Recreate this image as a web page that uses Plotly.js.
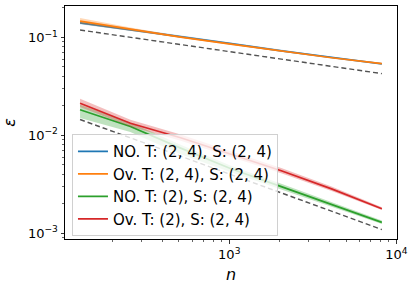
<!DOCTYPE html>
<html><head><meta charset="utf-8">
<script src="https://cdn.plot.ly/plotly-3.0.1.min.js"></script>
<style>html,body{margin:0;padding:0;background:#fff}#chart{width:416px;height:286px}</style>
</head><body><div id="chart"></div>
<script>
const n = [128, 256, 512, 1024, 2048, 4096, 8192];
const seriesNames = ["NO. T: (2, 4), S: (2, 4)", "Ov. T: (2, 4), S: (2, 4)", "NO. T: (2), S: (2, 4)", "Ov. T: (2), S: (2, 4)"];
const seriesColors = ["#1f77b4", "#ff7f0e", "#2ca02c", "#d62728"];
const bandColors = ["rgba(31,119,180,0.3)", "rgba(255,127,14,0.3)", "rgba(44,160,44,0.3)", "rgba(214,39,40,0.3)"];

const noT24 = [0.141, 0.1203, 0.1019, 0.0863, 0.0728, 0.0625, 0.0537];
const noT24Lo = [0.136, 0.117, 0.0999, 0.0850, 0.0718, 0.0617, 0.0531];
const noT24Hi = [0.146, 0.1236, 0.1039, 0.0876, 0.0738, 0.0633, 0.0543];

const ovT24 = [0.1469, 0.1207, 0.1007, 0.0853, 0.0723, 0.0620, 0.0541];
const ovT24Lo = [0.138, 0.116, 0.0985, 0.0838, 0.0712, 0.0612, 0.0535];
const ovT24Hi = [0.158, 0.126, 0.1030, 0.0868, 0.0734, 0.0628, 0.0547];

const noT2 = [0.01825, 0.0123, 0.0074, 0.00456, 0.00299, 0.00196, 0.00129];
const noT2Lo = [0.0150, 0.0108, 0.0064, 0.0042, 0.00280, 0.00186, 0.00124];
const noT2Hi = [0.0205, 0.0135, 0.0080, 0.0049, 0.00320, 0.00207, 0.00135];

const ovT2 = [0.0213, 0.0133, 0.00946, 0.00641, 0.00435, 0.00284, 0.00178];
const ovT2Lo = [0.0195, 0.0123, 0.0088, 0.0060, 0.0041, 0.00270, 0.00173];
const ovT2Hi = [0.0236, 0.0144, 0.0102, 0.0069, 0.00465, 0.00300, 0.00184];

const refN = [128, 8192];
const refUpper = [0.119, 0.0427];
const refLower = [0.0145, 0.00109];

const xTickVals = [1000, 10000];
const xTickText = ["10<sup>3</sup>", "10<sup>4</sup>"];
const yTickVals = [0.001, 0.01, 0.1];
const yTickText = ["10<sup>−3</sup>", "10<sup>−2</sup>", "10<sup>−1</sup>"];
const xMinor = [200,300,400,500,600,700,800,900,2000,3000,4000,5000,6000,7000,8000,9000];
const yMinor = [0.0009,0.002,0.003,0.004,0.005,0.006,0.007,0.008,0.009,0.02,0.03,0.04,0.05,0.06,0.07,0.08,0.09,0.2];

const lines = [noT24, ovT24, noT2, ovT2];
const los = [noT24Lo, ovT24Lo, noT2Lo, ovT2Lo];
const his = [noT24Hi, ovT24Hi, noT2Hi, ovT2Hi];

const traces = [];
for (let i = 0; i < 4; i++) {
  traces.push({
    x: n.concat(n.slice().reverse()),
    y: his[i].concat(los[i].slice().reverse()),
    type: "scatter", mode: "lines", fill: "toself",
    fillcolor: bandColors[i], line: {width: 0}, showlegend: false, hoverinfo: "skip"
  });
  traces.push({
    x: n, y: lines[i], type: "scatter", mode: "lines", name: seriesNames[i],
    legendgroup: "g" + i,
    line: {color: seriesColors[i], width: 1.7}
  });
}
traces.push({x: refN, y: refUpper, type: "scatter", mode: "lines", showlegend: false,
  line: {color: "rgba(40,40,40,0.8)", width: 1.4, dash: "5px,3px"}});
traces.push({x: refN, y: refLower, type: "scatter", mode: "lines", showlegend: false,
  line: {color: "rgba(40,40,40,0.8)", width: 1.4, dash: "5px,3px"}});

const axisCommon = {
  type: "log", showgrid: false, zeroline: false, showline: true, mirror: true,
  linecolor: "#000", linewidth: 1, ticks: "outside", ticklen: 3.5, tickwidth: 0.8,
  tickcolor: "#000", tickmode: "array",
  tickfont: {family: "DejaVu Sans", size: 13, color: "#000"}
};

const layout = {
  width: 416, height: 286,
  margin: {l: 65, r: 19, t: 6, b: 47},
  paper_bgcolor: "#fff", plot_bgcolor: "#fff",
  font: {family: "DejaVu Sans", color: "#000"},
  showlegend: true,
  xaxis: Object.assign({}, axisCommon, {
    range: [2.017, 4.004], tickvals: xTickVals, ticktext: xTickText,
    minor: {tickmode: "array", tickvals: xMinor, ticks: "outside", ticklen: 2, tickwidth: 0.6, tickcolor: "#000", showgrid: false},
    title: {text: "<i>n</i>", font: {family: "DejaVu Sans", size: 16}, standoff: 7}
  }),
  yaxis: Object.assign({}, axisCommon, {
    range: [-3.059, -0.679], tickvals: yTickVals, ticktext: yTickText,
    minor: {tickmode: "array", tickvals: yMinor, ticks: "outside", ticklen: 2, tickwidth: 0.6, tickcolor: "#000", showgrid: false},
    title: {text: "<i>ε</i>", font: {family: "DejaVu Sans", size: 16}, standoff: 10}
  }),
  legend: {
    x: 0.021, y: 0.012, xanchor: "left", yanchor: "bottom",
    bgcolor: "rgba(255,255,255,0.8)", bordercolor: "#d0d0d0", borderwidth: 1,
    font: {family: "DejaVu Sans", size: 15, color: "#000"},
    traceorder: "grouped", tracegroupgap: 0, itemwidth: 30
  }
};

Plotly.newPlot("chart", traces, layout, {staticPlot: true, displayModeBar: false});
</script></body></html>
